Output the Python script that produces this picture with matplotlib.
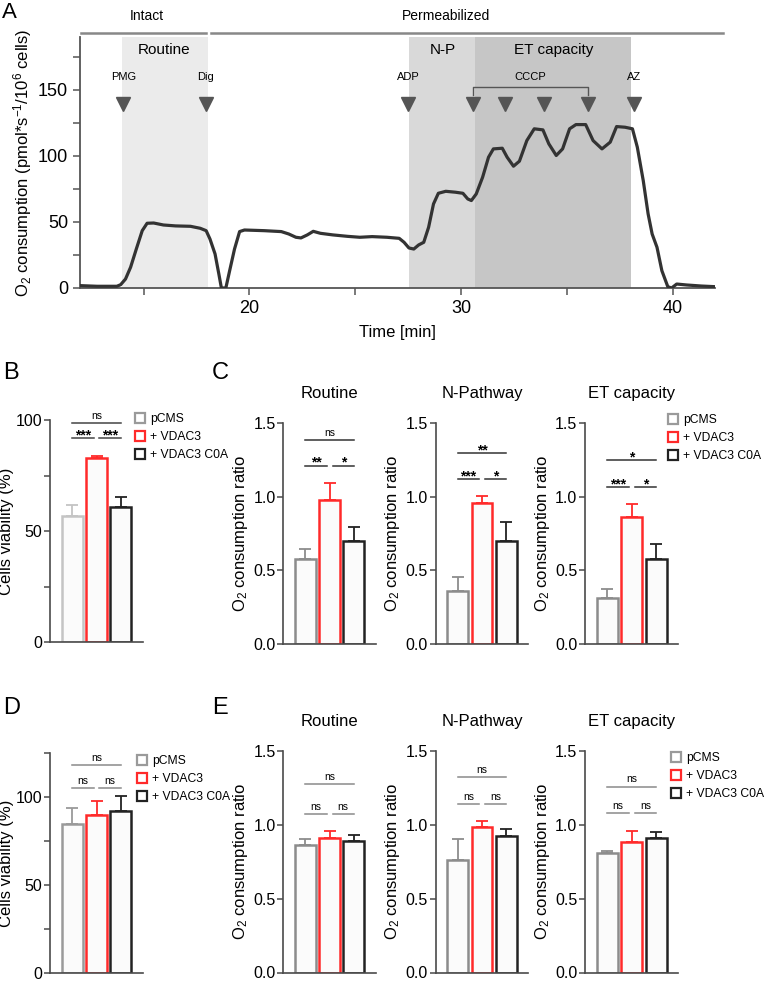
import numpy as np
import matplotlib
matplotlib.use("Agg")
import matplotlib.pyplot as plt
from matplotlib.lines import Line2D

plt.rcParams['font.family'] = ['Liberation Sans', 'DejaVu Sans']
plt.rcParams['mathtext.default'] = 'regular'

# ---- panel A: O2 trace ----
trace_t = [12.0, 12.81, 13.74, 13.92, 14.15, 14.39, 14.66, 14.94, 15.17, 15.48, 15.94, 16.52,
           17.22, 17.68, 17.96, 18.14, 18.38, 18.56, 18.68, 18.89, 19.07, 19.30, 19.54, 19.77,
           20.70, 21.51, 21.86, 22.20, 22.44, 22.74, 23.02, 23.36, 23.94, 24.64, 25.22, 25.80,
           26.50, 27.08, 27.31, 27.54, 27.77, 28.0, 28.24, 28.47, 28.70, 28.93, 29.28, 29.74,
           30.09, 30.32, 30.49, 30.72, 31.02, 31.30, 31.53, 31.95, 32.18, 32.48, 32.76, 33.11,
           33.46, 33.87, 34.15, 34.50, 34.80, 35.13, 35.43, 35.89, 36.24, 36.66, 37.05, 37.35,
           37.75, 38.10, 38.33, 38.61, 38.84, 39.03, 39.26, 39.49, 39.77, 39.95, 40.19, 40.65,
           41.35, 42.0]
trace_o2 = [1.8, 1.3, 1.3, 2.5, 6.8, 15.7, 29.5, 43.4, 49.0, 49.2, 47.7, 47.0,
            46.7, 45.2, 43.4, 37.1, 25.8, 10.6, 0, 0, 13.1, 29.5, 42.7, 43.9,
            43.4, 42.7, 40.9, 38.4, 37.9, 40.2, 42.9, 41.4, 40.2, 39.1, 38.4, 38.9,
            38.4, 37.6, 34.6, 30.3, 29.5, 32.6, 34.6, 46.0, 63.6, 71.7, 73.2, 72.5,
            71.7, 67.4, 66.2, 71.2, 83.8, 99.0, 105.3, 105.8, 99.0, 92.2, 96.0, 111.6,
            120.5, 119.7, 109.1, 100.3, 105.3, 120.5, 123.7, 123.7, 111.6, 105.3, 110.4, 122.2,
            121.7, 120.5, 106.6, 81.3, 56.1, 40.9, 30.8, 13.1, 1.0, 0, 3.0, 2.3,
            1.5, 1.0]

phase_names = ['Routine', 'N-P', 'ET capacity']
phase_start = [13.97, 27.54, 30.67]
phase_end = [18.03, 30.67, 38.03]
phase_label_t = [15.96, 29.16, 34.39]
phase_colors = ['#ebebeb', '#d9d9d9', '#c6c6c6']

state_names = ['Intact', 'Permeabilized']
state_start = [12.07, 18.2]
state_end = [17.96, 42.4]
state_label_t = [15.17, 29.28]

reagent_names = ['PMG', 'Dig', 'ADP', 'CCCP', 'AZ']
reagent_label_t = [14.08, 17.91, 27.49, 33.29, 38.17]
injection_t = [14.04, 17.96, 27.49, 30.58, 32.06, 33.92, 36.01, 38.17]

# ---- panels B-E: bar data ----
groups = ['pCMS', '+ VDAC3', '+ VDAC3 C0A']

b_viab = [57, 83, 61]
b_viab_err = [4.6, 0.8, 4.4]
c_routine = [0.577, 0.975, 0.70]
c_routine_err = [0.067, 0.117, 0.097]
c_npath = [0.359, 0.959, 0.697]
c_npath_err = [0.094, 0.045, 0.129]
c_et = [0.311, 0.859, 0.580]
c_et_err = [0.061, 0.091, 0.099]

d_viab = [84.9, 89.6, 92.1]
d_viab_err = [8.9, 8.1, 8.3]
e_routine = [0.865, 0.909, 0.892]
e_routine_err = [0.040, 0.052, 0.040]
e_npath = [0.761, 0.986, 0.926]
e_npath_err = [0.144, 0.037, 0.049]
e_et = [0.810, 0.881, 0.913]
e_et_err = [0.015, 0.075, 0.038]

# significance: (bar i, bar j, height, label)
b_sig = [(0, 2, 98.8, 'ns'), (0, 1, 91.7, '***'), (1, 2, 91.7, '***')]
c_routine_sig = [(0, 2, 1.38, 'ns'), (0, 1, 1.21, '**'), (1, 2, 1.21, '*')]
c_npath_sig = [(0, 2, 1.293, '**'), (0, 1, 1.119, '***'), (1, 2, 1.119, '*')]
c_et_sig = [(0, 2, 1.247, '*'), (0, 1, 1.067, '***'), (1, 2, 1.067, '*')]
d_sig = [(0, 2, 118.1, 'ns'), (0, 1, 105.3, 'ns'), (1, 2, 105.3, 'ns')]
e_routine_sig = [(0, 2, 1.275, 'ns'), (0, 1, 1.073, 'ns'), (1, 2, 1.073, 'ns')]
e_npath_sig = [(0, 2, 1.324, 'ns'), (0, 1, 1.14, 'ns'), (1, 2, 1.14, 'ns')]
e_et_sig = [(0, 2, 1.259, 'ns'), (0, 1, 1.077, 'ns'), (1, 2, 1.077, 'ns')]

W, H = 764, 982
fig = plt.figure(figsize=(W / 100, H / 100), dpi=100)


def px_axes(left, top, right, bottom):
    return fig.add_axes([left / W, 1 - bottom / H, (right - left) / W, (bottom - top) / H])


AX_COL = '#4a4a4a'

# ================= Panel A =================
axA = px_axes(80, 37, 715, 288)
for s, e, c in zip(phase_start, phase_end, phase_colors):
    axA.axvspan(s, e, color=c, lw=0, zorder=0)
axA.plot(trace_t, trace_o2, color='#333333', lw=2.3, solid_joinstyle='round', zorder=3)
axA.set_xlim(12, 42)
axA.set_ylim(0, 190)
axA.set_xticks([20, 30, 40])
axA.set_xticks([15, 25, 35], minor=True)
axA.set_yticks([0, 50, 100, 150])
axA.set_yticks([25, 75, 125, 175], minor=True)
for sp in ['top', 'right']:
    axA.spines[sp].set_visible(False)
for sp in ['left', 'bottom']:
    axA.spines[sp].set_color('#555555')
    axA.spines[sp].set_linewidth(1.3)
axA.tick_params(which='both', direction='out', color='#555555', width=1.1)
axA.tick_params(which='major', length=5, labelsize=13)
axA.tick_params(which='minor', length=5)
axA.set_xlabel('Time [min]', fontsize=12, labelpad=6)
axA.set_ylabel('O$_2$ consumption (pmol*s$^{-1}$/10$^6$ cells)', fontsize=12, labelpad=3)

for name, s, e, xc in zip(state_names, state_start, state_end, state_label_t):
    axA.plot([s, e], [193, 193], color='#888888', lw=1.8, clip_on=False)
    axA.text(xc, 206, name, ha='center', va='center', fontsize=10)
for name, xc in zip(phase_names, phase_label_t):
    axA.text(xc, 180, name, ha='center', va='center', fontsize=11)
for name, t in zip(reagent_names, reagent_label_t):
    axA.text(t, 160, name, ha='center', va='center', fontsize=8)
axA.plot(injection_t, [139] * len(injection_t), linestyle='', marker='v', markersize=10,
         color='#555555', zorder=4)
axA.plot([injection_t[3], injection_t[3], injection_t[6], injection_t[6]],
         [146, 152.5, 152.5, 146], color='#555555', lw=1)

fig.text(2 / W, 1 - 12 / H, 'A', fontsize=16, va='center')

# ================= Bar panels =================
XPOS = np.arange(3)
EDGE = {1: '#ff2a2a', 2: '#222222'}


def bar_panel(ax, vals, errs, sig, ylim, yticks, minor, sig_color, grey_edge, title=None,
              ylabel='O$_2$ consumption ratio', fmt='{:.1f}', lpad=2.5):
    edges = [grey_edge, EDGE[1], EDGE[2]]
    ax.bar(XPOS, vals, width=0.86, color='#fbfbfb', edgecolor=edges, linewidth=1.8, zorder=2)
    for x, v, e, c in zip(XPOS, vals, errs, edges):
        ax.errorbar(x, v, yerr=[[0], [e]], color=c, capsize=4, elinewidth=1.3, capthick=1.3, zorder=1)
    ax.set_xlim(-0.91, 2.91)
    ax.set_ylim(*ylim)
    ax.set_xticks([])
    ax.set_yticks(yticks)
    ax.set_yticklabels([fmt.format(t) for t in yticks])
    if minor:
        ax.set_yticks(minor, minor=True)
    for sp in ['top', 'right']:
        ax.spines[sp].set_visible(False)
    for sp in ['left', 'bottom']:
        ax.spines[sp].set_color(AX_COL)
        ax.spines[sp].set_linewidth(1.2)
    ax.tick_params(which='both', direction='out', color=AX_COL, width=1.1, length=4, labelsize=11.5, pad=1.5)
    ax.set_ylabel(ylabel, fontsize=12, labelpad=lpad)
    if title:
        ax.set_title(title, fontsize=12, pad=18)
    for i, j, y, lab in sig:
        if j - i == 2:
            x0, x1 = i, j
        elif i == 0:
            x0, x1 = 0, 0.88
        else:
            x0, x1 = 1.12, 2
        ax.plot([x0, x1], [y, y], color=sig_color, lw=1.1, clip_on=False)
        if lab == 'ns':
            ax.annotate(lab, ((x0 + x1) / 2, y), xytext=(0, 3), textcoords='offset points',
                        ha='center', va='baseline', fontsize=7.5, annotation_clip=False)
        else:
            ax.annotate(lab, ((x0 + x1) / 2, y), xytext=(0, -1), textcoords='offset points',
                        ha='center', va='baseline', fontsize=10, fontweight='bold', annotation_clip=False)


def add_legend(ax, x, y):
    handles = [Line2D([], [], linestyle='', marker='s', markersize=7, markerfacecolor='white',
                      markeredgewidth=1.6, markeredgecolor=c) for c in ['#9a9a9a', EDGE[1], EDGE[2]]]
    ax.legend(handles, groups, loc='upper left', bbox_to_anchor=(x / W, 1 - y / H),
              bbox_transform=fig.transFigure, frameon=False, fontsize=8.7, handlelength=0.8,
              handletextpad=0.45, labelspacing=0.5, borderpad=0, borderaxespad=0)


# row 1
axB = px_axes(50, 420, 143, 642.3)
bar_panel(axB, b_viab, b_viab_err, b_sig, (0, 100), [0, 50, 100], [25, 75], '#444444', '#c4c4c4',
          ylabel='Cells viability (%)', fmt='{:.0f}', lpad=1.5)
add_legend(axB, 135, 413)

axC1 = px_axes(283.3, 422.7, 376, 644.3)
bar_panel(axC1, c_routine, c_routine_err, c_routine_sig, (0, 1.5), [0, 0.5, 1.0, 1.5], None,
          '#333333', '#8c8c8c', title='Routine')
axC2 = px_axes(435.7, 422.7, 528.4, 644.3)
bar_panel(axC2, c_npath, c_npath_err, c_npath_sig, (0, 1.5), [0, 0.5, 1.0, 1.5], None,
          '#333333', '#8c8c8c', title='N-Pathway')
axC3 = px_axes(585, 422.7, 678.3, 644.3)
bar_panel(axC3, c_et, c_et_err, c_et_sig, (0, 1.5), [0, 0.5, 1.0, 1.5], None,
          '#333333', '#8c8c8c', title='ET capacity')
add_legend(axC3, 668, 414)

# row 2
axD = px_axes(50, 753, 143, 973)
bar_panel(axD, d_viab, d_viab_err, d_sig, (0, 125), [0, 50, 100], [25, 75, 125], '#8a8a8a', '#9a9a9a',
          ylabel='Cells viability (%)', fmt='{:.0f}', lpad=1.5)
add_legend(axD, 137, 755)

axE1 = px_axes(283.3, 751, 376, 972.5)
bar_panel(axE1, e_routine, e_routine_err, e_routine_sig, (0, 1.5), [0, 0.5, 1.0, 1.5], None,
          '#8a8a8a', '#8c8c8c', title='Routine')
axE2 = px_axes(435.7, 751, 528.4, 972.5)
bar_panel(axE2, e_npath, e_npath_err, e_npath_sig, (0, 1.5), [0, 0.5, 1.0, 1.5], None,
          '#8a8a8a', '#8c8c8c', title='N-Pathway')
axE3 = px_axes(585, 751, 678.3, 972.5)
bar_panel(axE3, e_et, e_et_err, e_et_sig, (0, 1.5), [0, 0.5, 1.0, 1.5], None,
          '#8a8a8a', '#8c8c8c', title='ET capacity')
add_legend(axE3, 671, 752)

for lab, x, y in [('B', 3, 373), ('C', 212, 373), ('D', 3, 708), ('E', 212, 708)]:
    fig.text(x / W, 1 - y / H, lab, fontsize=17, va='center')

fig.savefig('out.png', dpi=100)
